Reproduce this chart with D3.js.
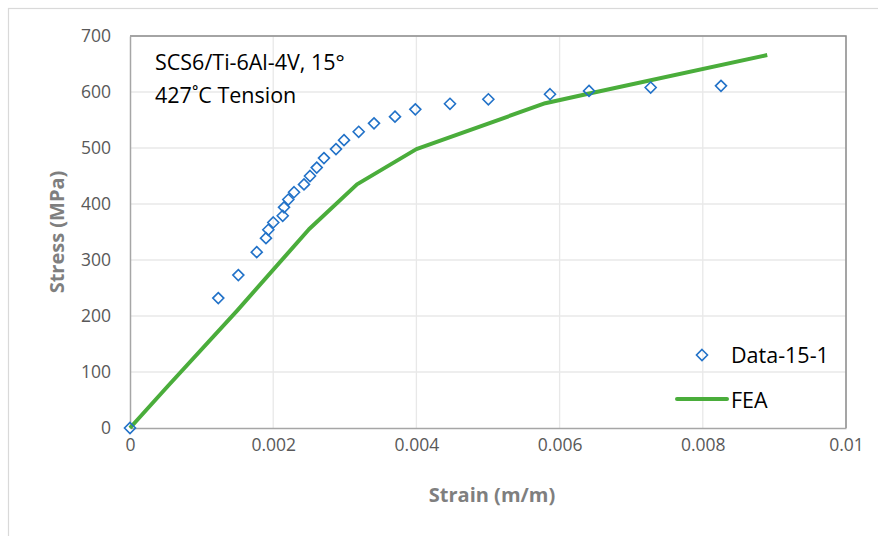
<!DOCTYPE html>
<html><head><meta charset="utf-8">
<script src="https://cdn.jsdelivr.net/npm/d3@7"></script>
<style>body{margin:0;background:#fff}svg{display:block}</style>
</head><body>
<script>
const dataStrain = [0, 0.001233, 0.001513, 0.00177, 0.001899, 0.001932, 0.002001, 0.002133, 0.002151, 0.002211, 0.002291, 0.00243, 0.002514, 0.002608, 0.002709, 0.002877, 0.002989, 0.003194, 0.003408, 0.003701, 0.003985, 0.004469, 0.005005, 0.005866, 0.006411, 0.007272, 0.008254];
const dataStress = [0, 232, 273, 314, 339, 354, 367, 379, 394, 408, 421, 435, 450, 465, 482, 498, 514, 529, 544, 556, 569, 579, 587, 596, 602, 608, 611];
const feaStrain = [0, 0.00053, 0.0015, 0.0025, 0.00317, 0.004, 0.0058, 0.0064, 0.0089];
const feaStress = [0, 75, 210, 355, 435, 498, 580, 597, 666];
const xTicks = [0, 0.002, 0.004, 0.006, 0.008, 0.01];
const xTickLabels = ["0", "0.002", "0.004", "0.006", "0.008", "0.01"];
const yTicks = [0, 100, 200, 300, 400, 500, 600, 700];
const annotation = ["SCS6/Ti-6Al-4V, 15°", "427˚C Tension"];
const legendLabels = ["Data-15-1", "FEA"];

const W = 878, H = 536;
const svg = d3.select("body").append("svg").attr("width", W).attr("height", H);
const font = "'Open Sans', sans-serif";
// outer chart border
svg.append("rect").attr("x", 8.5).attr("y", 8.5).attr("width", 900).attr("height", 600)
  .attr("fill", "none").attr("stroke", "#d9d9d9").attr("stroke-width", 1.2);

const x = d3.scaleLinear().domain([0, 0.01]).range([130, 846]);
const y = d3.scaleLinear().domain([0, 700]).range([428, 36]);

// gridlines
const g = svg.append("g");
g.selectAll(".vg").data(xTicks.slice(1)).enter().append("line")
  .attr("x1", d => x(d)).attr("x2", d => x(d)).attr("y1", y(0)).attr("y2", y(700))
  .attr("stroke", "#e8e8e8").attr("stroke-width", 1.3);
g.selectAll(".hg").data(yTicks.slice(1)).enter().append("line")
  .attr("x1", x(0)).attr("x2", x(0.01)).attr("y1", d => y(d)).attr("y2", d => y(d))
  .attr("stroke", "#e8e8e8").attr("stroke-width", 1.3);

// plot frame: top & right darker
svg.append("path").attr("d", `M${x(0)},${y(700)}H${x(0.01)}V${y(0)}`)
  .attr("fill", "none").attr("stroke", "#8c8c8c").attr("stroke-width", 1.5);

// axes
const xAxis = d3.axisBottom(x).tickValues(xTicks).tickFormat((d, i) => xTickLabels[i]).tickSize(0).tickPadding(11);
const yAxis = d3.axisLeft(y).tickValues(yTicks).tickFormat(d3.format("d")).tickSize(0).tickPadding(19);
const gx = svg.append("g").attr("transform", `translate(0,${y(0)})`).call(xAxis);
const gy = svg.append("g").attr("transform", `translate(${x(0)},0)`).call(yAxis);
[gx, gy].forEach(a => {
  a.select(".domain").attr("stroke", "#a6a6a6").attr("stroke-width", 1.5);
  a.selectAll("text").attr("fill", "#595959").style("font-family", font).style("font-size", "17.5px");
});

// axis titles
svg.append("text").attr("x", 492).attr("y", 502).attr("text-anchor", "middle")
  .style("font-family", font).style("font-size", "20px").style("font-weight", "bold")
  .attr("fill", "#7f7f7f").text("Strain (m/m)");
svg.append("text").attr("transform", "translate(64,232) rotate(-90)").attr("text-anchor", "middle")
  .style("font-family", font).style("font-size", "20px").style("font-weight", "bold")
  .attr("fill", "#7f7f7f").text("Stress (MPa)");

// FEA line
const feaPts = feaStrain.map((s, i) => [s, feaStress[i]]);
svg.append("path").datum(feaPts)
  .attr("d", d3.line().x(d => x(d[0])).y(d => y(d[1])))
  .attr("fill", "none").attr("stroke", "#4aad3b").attr("stroke-width", 4).attr("stroke-linejoin", "round");

// data markers
const diamond = r => `M0,${-r}L${r},0L0,${r}L${-r},0Z`;
const dataPts = dataStrain.map((s, i) => [s, dataStress[i]]);
svg.append("g").selectAll("path").data(dataPts).enter().append("path")
  .attr("transform", d => `translate(${x(d[0])},${y(d[1])})`)
  .attr("d", diamond(5.5)).attr("fill", "none").attr("stroke", "#2272c8").attr("stroke-width", 1.6);

// annotation
svg.append("g").selectAll("text").data(annotation).enter().append("text")
  .attr("x", 155).attr("y", (d, i) => 70 + i * 33)
  .style("font-family", font).style("font-size", "21.5px").attr("fill", "#000").text(d => d);

// legend
svg.append("path").attr("transform", "translate(702,355)").attr("d", diamond(5.5))
  .attr("fill", "none").attr("stroke", "#2272c8").attr("stroke-width", 1.6);
svg.append("line").attr("x1", 677).attr("x2", 727).attr("y1", 399).attr("y2", 399)
  .attr("stroke", "#4aad3b").attr("stroke-width", 4).attr("stroke-linecap", "round");
svg.append("g").selectAll("text").data(legendLabels).enter().append("text")
  .attr("x", 731).attr("y", (d, i) => 363 + i * 45)
  .style("font-family", font).style("font-size", "21.5px").attr("fill", "#000").text(d => d);
</script>
</body></html>
